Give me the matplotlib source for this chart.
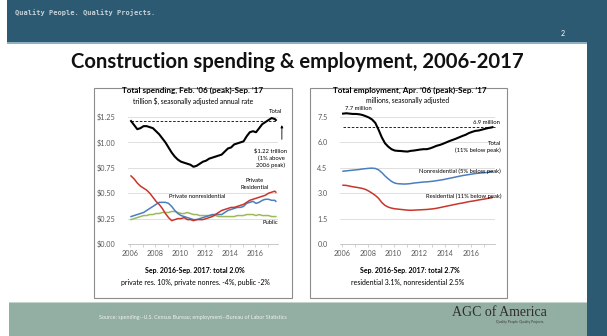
import matplotlib
matplotlib.use("Agg")
import matplotlib.pyplot as plt
from matplotlib.patches import Rectangle, Circle
import numpy as np
import pandas as pd

plt.rcParams["font.family"] = ["Lato", "DejaVu Sans"]

# ----------------
# Data (quarterly readings, Feb 2006 - Aug 2017, plus Sep 2017)
# ----------------
dates = pd.date_range("2006-02-01", "2017-08-01", freq="3MS").append(
    pd.DatetimeIndex(["2017-09-01"]))
years = (dates.year + (dates.month - 1) / 12).to_numpy()

# spending, trillion $ SAAR
spend_total = [1.21, 1.17, 1.13, 1.14, 1.16, 1.16, 1.15, 1.14,
               1.11, 1.08, 1.04, 1.00, 0.95, 0.90, 0.86, 0.83,
               0.81, 0.80, 0.79, 0.78, 0.76, 0.77, 0.79, 0.81,
               0.82, 0.84, 0.85, 0.86, 0.87, 0.88, 0.91, 0.94,
               0.95, 0.98, 0.99, 1.00, 1.01, 1.06, 1.10, 1.11,
               1.10, 1.14, 1.18, 1.20, 1.22, 1.24, 1.23, 1.22]
spend_res = [0.67, 0.64, 0.60, 0.57, 0.55, 0.53, 0.50, 0.46,
             0.42, 0.39, 0.35, 0.30, 0.26, 0.23, 0.24, 0.25,
             0.25, 0.26, 0.24, 0.24, 0.23, 0.24, 0.24, 0.24,
             0.25, 0.26, 0.27, 0.29, 0.31, 0.33, 0.34, 0.35,
             0.36, 0.36, 0.37, 0.38, 0.39, 0.41, 0.43, 0.44,
             0.45, 0.46, 0.47, 0.48, 0.50, 0.51, 0.52, 0.51]
spend_nonres = [0.27, 0.28, 0.29, 0.30, 0.31, 0.33, 0.35, 0.37,
                0.39, 0.41, 0.41, 0.41, 0.40, 0.37, 0.33, 0.30,
                0.28, 0.27, 0.26, 0.25, 0.24, 0.24, 0.25, 0.26,
                0.27, 0.28, 0.29, 0.29, 0.29, 0.29, 0.31, 0.33,
                0.34, 0.35, 0.36, 0.36, 0.37, 0.40, 0.41, 0.42,
                0.40, 0.41, 0.43, 0.44, 0.44, 0.43, 0.43, 0.42]
spend_public = [0.24, 0.25, 0.26, 0.27, 0.28, 0.28, 0.29, 0.29,
                0.30, 0.30, 0.31, 0.31, 0.31, 0.32, 0.32, 0.31,
                0.30, 0.30, 0.31, 0.30, 0.29, 0.29, 0.28, 0.28,
                0.28, 0.28, 0.28, 0.28, 0.27, 0.27, 0.27, 0.27,
                0.27, 0.27, 0.28, 0.28, 0.28, 0.29, 0.29, 0.29,
                0.28, 0.29, 0.28, 0.28, 0.28, 0.27, 0.27, 0.27]
spend_peak = 1.21

# employment, millions SA
emp_total = [7.70, 7.72, 7.70, 7.68, 7.68, 7.66, 7.62, 7.55,
             7.47, 7.35, 7.15, 6.75, 6.30, 5.95, 5.75, 5.60,
             5.52, 5.50, 5.49, 5.47, 5.46, 5.50, 5.52, 5.55,
             5.58, 5.60, 5.60, 5.65, 5.72, 5.80, 5.85, 5.92,
             6.00, 6.08, 6.15, 6.22, 6.30, 6.38, 6.45, 6.55,
             6.62, 6.68, 6.70, 6.75, 6.80, 6.85, 6.88, 6.90]
emp_nonres = [4.30, 4.32, 4.34, 4.36, 4.38, 4.40, 4.43, 4.45,
              4.47, 4.48, 4.46, 4.38, 4.22, 4.02, 3.85, 3.70,
              3.60, 3.56, 3.55, 3.54, 3.55, 3.57, 3.60, 3.62,
              3.64, 3.66, 3.67, 3.69, 3.71, 3.74, 3.77, 3.80,
              3.84, 3.88, 3.92, 3.96, 4.00, 4.04, 4.07, 4.10,
              4.13, 4.16, 4.18, 4.20, 4.21, 4.24, 4.27, 4.28]
emp_res = [3.47, 3.46, 3.42, 3.38, 3.35, 3.32, 3.28, 3.22,
           3.12, 3.00, 2.87, 2.70, 2.45, 2.28, 2.18, 2.12,
           2.08, 2.06, 2.04, 2.02, 2.00, 1.99, 2.00, 2.01,
           2.02, 2.03, 2.04, 2.06, 2.08, 2.11, 2.15, 2.19,
           2.23, 2.27, 2.31, 2.35, 2.39, 2.42, 2.46, 2.50,
           2.53, 2.56, 2.60, 2.63, 2.66, 2.70, 2.73, 2.75]
emp_latest = 6.9

spend_ticks = [0.0, 0.25, 0.50, 0.75, 1.00, 1.25]
emp_ticks = [0.0, 1.5, 3.0, 4.5, 6.0, 7.5]
year_ticks = list(range(2006, 2018))
year_labels = [str(y) if y % 2 == 0 else "" for y in year_ticks]

# ----------------
# Colors
# ----------------
HEADER = "#2B5A72"
FOOTER = "#93AFA3"
GRID = "#D9D9D9"
TICK = "#595959"
RED = "#C9352B"
BLUE = "#4A7EC0"
GREEN = "#9BBB59"

W, H = 607, 336
fig = plt.figure(figsize=(W / 100, H / 100), dpi=100)


def fx(px):
    return px / W


def fy(py):
    return 1 - py / H


def rect(x0, y0, x1, y1, **kw):
    fig.patches.append(Rectangle((fx(x0), fy(y1)), fx(x1 - x0), (y1 - y0) / H,
                                 transform=fig.transFigure, **kw))


def text(x, y, s, **kw):
    kw.setdefault("ha", "center")
    kw.setdefault("va", "center")
    fig.text(fx(x), fy(y), s, **kw)


# ----------------
# Slide frame
# ----------------
rect(7, 0, W, 43, facecolor=HEADER, edgecolor="none")
rect(7, 42, 587, 43.5, facecolor="#8FB0C0", edgecolor="none")
rect(587, 43, W, H, facecolor=HEADER, edgecolor="none")
rect(9, 302, 587, H, facecolor=FOOTER, edgecolor="none")
rect(9, 301.5, 587, 302.5, facecolor="#C5D5CC", edgecolor="none")

text(15, 13, "Quality People. Quality Projects.", ha="left", fontsize=5,
     color="#C9D3DA", family="DejaVu Sans Mono", fontweight="bold")
text(563, 33, "2", fontsize=5, color="white")
text(297, 62, "Construction spending & employment, 2006-2017",
     fontsize=14.6, fontweight="bold", color="#111111")

# chart boxes
rect(94, 88, 292, 298, facecolor="none", edgecolor="#8C8C8C", linewidth=0.8)
rect(310, 88, 507, 298, facecolor="none", edgecolor="#8C8C8C", linewidth=0.8)


def style_axes(ax, ticks, labels, ylim, xlim):
    ax.set_ylim(*ylim)
    ax.set_xlim(*xlim)
    ax.set_yticks(ticks)
    ax.set_yticklabels(labels)
    ax.set_xticks(year_ticks)
    ax.set_xticklabels(year_labels)
    ax.grid(axis="y", color=GRID, linewidth=0.6)
    ax.set_axisbelow(True)
    for s in ["left", "right", "top"]:
        ax.spines[s].set_visible(False)
    ax.spines["bottom"].set_color("#BFBFBF")
    ax.spines["bottom"].set_linewidth(0.6)
    ax.tick_params(axis="y", length=0, labelsize=5.2, labelcolor=TICK, pad=9)
    ax.tick_params(axis="x", length=2, width=0.5, color="#BFBFBF",
                   labelsize=5.2, labelcolor=TICK, pad=2)
    ax.patch.set_alpha(0)


# ----------------
# Left: spending
# ----------------
ax1 = fig.add_axes([fx(128), fy(244), 150 / W, 127 / H])
style_axes(ax1, spend_ticks, [f"${t:.2f}" for t in spend_ticks],
           (0, 1.25), (2005.84, 2017.84))
ax1.plot(years, spend_public, color=GREEN, lw=1.1, clip_on=False)
ax1.plot(years, spend_nonres, color=BLUE, lw=1.1, clip_on=False)
ax1.plot(years, spend_res, color=RED, lw=1.1, clip_on=False)
ax1.plot(years, spend_total, color="black", lw=1.5, clip_on=False)
ax1.plot([years[0], years[-1]], [spend_peak, spend_peak], color="black",
         lw=0.6, ls=(0, (3, 2)), clip_on=False)
ax1.annotate("", xy=(2018.15, 1.17), xytext=(2018.15, 1.03),
             arrowprops=dict(arrowstyle="-|>", color="black", lw=0.6,
                             mutation_scale=3.5, shrinkA=0, shrinkB=0),
             annotation_clip=False)

text(193, 90, "Total spending, Feb. \u201906 (peak)-Sep. \u201917",
     fontsize=5.9, fontweight="bold")
text(193, 101, "trillion $, seasonally adjusted annual rate", fontsize=4.9)
text(275, 112, "Total", fontsize=4.2)
text(271, 158, "$1.22 trillion\n(1% above\n2006 peak)", fontsize=4.2,
     linespacing=1.3)
text(255, 184, "Private\nResidential", fontsize=4.2, linespacing=1.3)
text(197, 197, "Private nonresidential", fontsize=4.2)
text(270, 223, "Public", fontsize=4.2)
text(195, 271, "Sep. 2016-Sep. 2017: total 2.0%", fontsize=5,
     fontweight="bold")
text(195, 282, "private res. 10%, private nonres. -4%, public -2%", fontsize=5)

# ----------------
# Right: employment
# ----------------
ax2 = fig.add_axes([fx(340), fy(244), 155 / W, 127 / H])
style_axes(ax2, emp_ticks, [f"{t:.1f}" for t in emp_ticks],
           (0, 7.5), (2005.845, 2017.86))
ax2.plot(years, emp_res, color=RED, lw=1.1, clip_on=False)
ax2.plot(years, emp_nonres, color=BLUE, lw=1.1, clip_on=False)
ax2.plot(years, emp_total, color="black", lw=1.5, clip_on=False)
ax2.plot([years[0], 2017.85], [emp_latest, emp_latest], color="black",
         lw=0.6, ls=(0, (3, 2)), clip_on=False)

text(410, 90, "Total employment, Apr. \u201906 (peak)-Sep. \u201917",
     fontsize=5.9, fontweight="bold")
text(408, 100, "millions, seasonally adjusted", fontsize=4.9)
text(345, 109, "7.7 million", ha="left", fontsize=4.2)
text(486, 123, "6.9 million", fontsize=4.2)
text(501, 147, "Total\n(11% below peak)", ha="right", fontsize=4.2,
     linespacing=1.4, multialignment="right")
text(501, 171, "Nonresidential (5% below peak)", ha="right", fontsize=4.2)
text(501, 196, "Residential (11% below peak)", ha="right", fontsize=4.2)
text(410, 271, "Sep. 2016-Sep. 2017: total 2.7%", fontsize=5,
     fontweight="bold")
text(408, 282, "residential 3.1%, nonresidential 2.5%", fontsize=5)

# ----------------
# Footer
# ----------------
text(193, 318, "Source: spending--U.S. Census Bureau; employment--Bureau of Labor Statistics",
     fontsize=3.9, color="#EEF3F0")
text(499, 312, "AGC of America", fontsize=10, family="Liberation Serif",
     color="#2E2E2E")
text(520, 322, "Quality People. Quality Projects.", fontsize=2.4,
     color="#3A3A3A")

logo = fig.add_axes([fx(558), fy(324), 16 / W, 16 / H])
logo.set_xlim(-1, 1)
logo.set_ylim(-1, 1)
logo.set_aspect("equal")
logo.axis("off")
logo.add_patch(Circle((0, 0), 0.95, facecolor="#C8202F", edgecolor="white", lw=0.8))
logo.add_patch(Circle((0, 0), 0.6, facecolor="#E03A3E", edgecolor="none"))
logo.text(0, -0.05, "A", ha="center", va="center", fontsize=6,
          fontweight="bold", color="white")

fig.savefig("out.png", dpi=100)
